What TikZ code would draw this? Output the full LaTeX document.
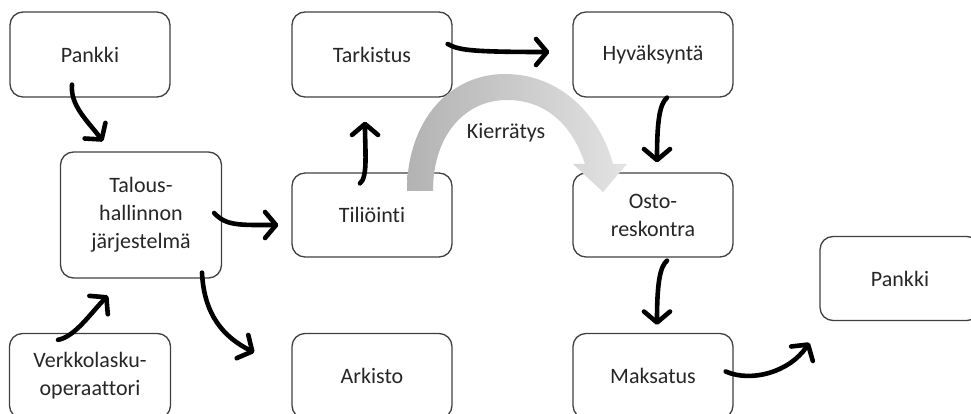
\documentclass[tikz,border=0pt]{standalone}
\usepackage{fontspec}
\setmainfont[Ligatures={NoCommon}]{Carlito}
\usetikzlibrary{arrows.meta,calc}
\begin{document}
\begin{tikzpicture}[x=1pt,y=-1pt,
  box/.style={draw=black!75, line width=1.3pt, rounded corners=13pt, minimum width=160pt, minimum height=85pt, inner sep=0pt, align=center, text=black!85, font=\fontsize{22}{28}\selectfont},
  flow/.style={line width=4.6pt, line cap=round, draw=black, -{Straight Barb[length=11pt,width=26pt,line width=4.6pt,round]}},
  lbl/.style={text=black!85, font=\fontsize{22}{28}\selectfont, inner sep=0pt}]
\useasboundingbox (0,0) rectangle (971,414);
% boxes
\node[box] (pankkiA) at (90,54.5) {Pankki};
\node[box, minimum width=161pt, minimum height=126pt] (talous) at (141,215) {Talous-\\hallinnon\\järjestelmä};
\node[box, minimum width=161pt] (verkko) at (90,376) {Verkkolasku-\\operaattori};
\node[box] (tark) at (372,54.5) {Tarkistus};
\node[box, minimum height=84pt] (tilio) at (372,215) {Tiliöinti};
\node[box] (arkisto) at (372,376) {Arkisto};
\node[box] (hyv) at (653,54.5) {Hyväksyntä};
\node[box, minimum height=84pt] (osto) at (653,215) {Osto-\\reskontra};
\node[box] (maks) at (653,376) {Maksatus};
\node[box, minimum height=84pt] (pankkiB) at (900,278.5) {Pankki};
% recycling arrow
\shade[left color=black!30, right color=black!11, shading angle=90]
  (407,191) .. controls (407,120) and (450,74) .. (505,74)
  .. controls (560,74) and (600,115) .. (613,164)
  -- (627,164) -- (603,192) -- (573,164) -- (585,164)
  .. controls (572,124) and (545,100) .. (507,100)
  .. controls (465,100) and (433,135) .. (433,191) -- cycle;
\node[lbl] (kier) at (506,133) {Kierrätys};
% connectors
\coordinate (freeB) at ($(pankkiB.south west)+(-10,21.5)$);
\draw[flow] ($(pankkiA.south)+(-18,-13)$) .. controls ($(pankkiA.south)+(-20,8)$) and ($(talous.north)+(-53,-30)$) .. ($(talous.north)+(-38,-10)$);
\draw[flow] ($(verkko.north)+(-32,7)$) .. controls ($(verkko.north)+(-15,4)$) and ($(talous.south)+(-50,34)$) .. ($(talous.south)+(-33,17)$);
\draw[flow] ($(talous.east)+(-8,-2)$) .. controls ($(talous.east)+(4,11)$) and ($(tilio.west)+(-52,10)$) .. ($(tilio.west)+(-13,10)$);
\draw[flow] ($(talous.south)+(61,-6)$) .. controls ($(talous.south)+(63,37)$) and ($(arkisto.west)+(-67,-38.5)$) .. ($(arkisto.west)+(-37,-23.5)$);
\draw[flow] ($(tilio.north)+(-12,11)$) .. controls ($(tilio.north)+(-4,5)$) and ($(tark.south)+(-7,53)$) .. ($(tark.south)+(-7,24)$);
\draw[flow] ($(tark.east)+(-5,-10.5)$) .. controls ($(tark.east)+(6,-4.5)$) and ($(hyv.west)+(-103,-2.5)$) .. ($(hyv.west)+(-23,-2.5)$);
\draw[flow] ($(hyv.south)+(14,0)$) .. controls ($(hyv.south)+(7,6)$) and ($(osto.north)+(4,-53)$) .. ($(osto.north)+(4,-10)$);
\draw[flow] ($(osto.south)+(14,3)$) .. controls ($(osto.south)+(7,9)$) and ($(maks.north)+(4,-50)$) .. ($(maks.north)+(4,-8)$);
\draw[flow] ($(maks.east)+(-8,-4.5)$) .. controls ($(maks.east)+(17,6.5)$) and ($(freeB)+(-20,30)$) .. (freeB);
\end{tikzpicture}
\end{document}
